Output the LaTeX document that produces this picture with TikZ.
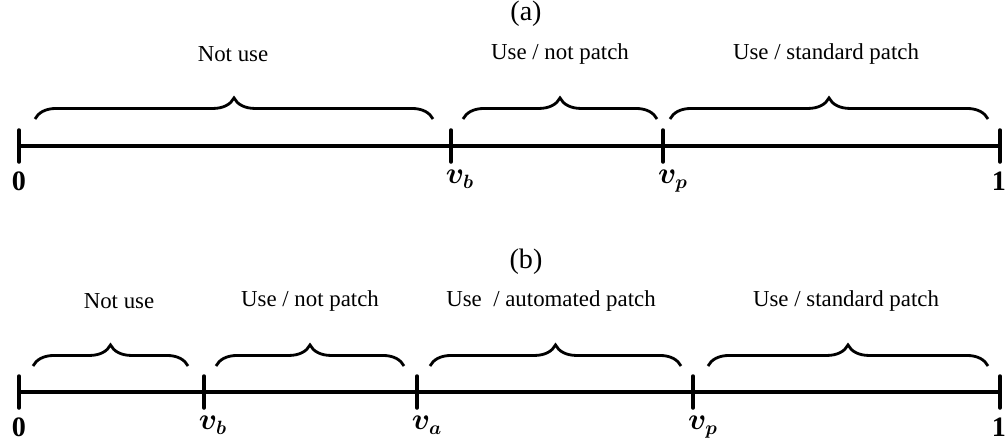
\documentclass[tikz,border=0pt]{standalone}
\usepackage{fontspec}
\setmainfont{Liberation Serif}
\usepackage{amsmath,bm}
\usetikzlibrary{decorations.pathreplacing}
\tikzset{
  axisline/.style={line width=2pt},
  tickmark/.style={line width=2pt, line cap=round},
  bracemark/.style={line width=1.6pt, decorate,
    decoration={brace, amplitude=12pt}},
  seglabel/.style={font=\fontsize{13}{15}\selectfont},
  panel/.style={font=\fontsize{16}{18}\selectfont},
  ptlabel/.style={font=\fontsize{16}{18}\selectfont, anchor=north}
}

\begin{document}
\begin{tikzpicture}[x=0.02cm, y=-0.02cm]
\useasboundingbox (0,0) rectangle (1005,444);

% (a) ---------------------------------------------------------
\node[panel] (ta) at (526,14) {(a)};
\coordinate (a0) at (19,146);
\coordinate (ab) at (451,146);
\coordinate (ap) at (663,146);
\coordinate (a1) at (1000,146);
\draw[axisline] (a0) -- (a1);
\foreach \p in {a0,ab,ap,a1}
  \draw[tickmark] (\p) ++(0,-16) -- ++(0,32);
\node[ptlabel] (la0) at (19,166) {$\mathbf{0}$};
\node[ptlabel] (lab) at (460,164) {$\bm{v_b}$};
\node[ptlabel] (lap) at (673,164) {$\bm{v_p}$};
\node[ptlabel] (la1) at (999,166) {$\mathbf{1}$};
\draw[bracemark] (35,119) -- (433,119);
\draw[bracemark] (463,119) -- (657,119);
\draw[bracemark] (670,119) -- (988,119);
\node[seglabel] (sa1) at (233,54) {Not use};
\node[seglabel] (sa2) at (560,54) {Use / not patch};
\node[seglabel] (sa3) at (826,54) {Use / standard patch};

% (b) ---------------------------------------------------------
\node[panel] (tb) at (526,262) {(b)};
\coordinate (b0) at (19,392);
\coordinate (bb) at (204,392);
\coordinate (ba) at (417,392);
\coordinate (bp) at (693,392);
\coordinate (b1) at (1000,392);
\draw[axisline] (b0) -- (b1);
\foreach \p in {b0,bb,ba,bp,b1}
  \draw[tickmark] (\p) ++(0,-16) -- ++(0,32);
\node[ptlabel] (lb0) at (19,412) {$\mathbf{0}$};
\node[ptlabel] (lbb) at (213,410) {$\bm{v_b}$};
\node[ptlabel] (lba) at (427,410) {$\bm{v_a}$};
\node[ptlabel] (lbp) at (703,410) {$\bm{v_p}$};
\node[ptlabel] (lb1) at (999,412) {$\mathbf{1}$};
\draw[bracemark] (33,366) -- (188,366);
\draw[bracemark] (216,366) -- (404,366);
\draw[bracemark] (430,366) -- (681,366);
\draw[bracemark] (708,366) -- (988,366);
\node[seglabel] (sb1) at (119,301) {Not use};
\node[seglabel] (sb2) at (310,301) {Use / not patch};
\node[seglabel] (sb3) at (551,301) {Use\hspace{0.5em}/ automated patch};
\node[seglabel] (sb4) at (846,301) {Use / standard patch};
\end{tikzpicture}
\end{document}
